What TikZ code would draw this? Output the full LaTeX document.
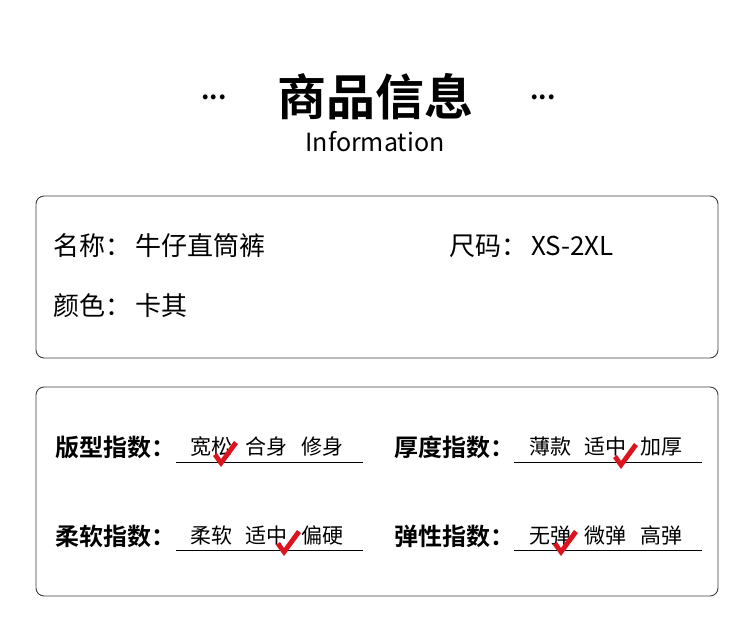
\documentclass[tikz,border=0pt]{standalone}
\usepackage{fontspec}
\setmainfont{Noto Sans CJK SC}
\newfontfamily\cjkbold{Noto Sans CJK SC Bold}
\usetikzlibrary{positioning}
\definecolor{tickRed}{RGB}{220,20,30}
\definecolor{lineGray}{RGB}{60,60,60}
\tikzset{
  panel/.style={draw=lineGray, line width=0.9pt, rounded corners=8pt},
  info/.style={anchor=west, inner sep=0pt, font=\fontsize{26}{26}\selectfont},
  key/.style={anchor=west, inner sep=0pt, font=\cjkbold\fontsize{24}{24}\selectfont},
  choice/.style={anchor=west, inner sep=0pt, font=\fontsize{21}{21}\selectfont},
  scale line/.style={draw=black, line width=0.9pt},
  tick/.style={fill=tickRed}
}
\newcommand*{\tickAt}[1]{%
  \fill[tick] ($(#1)+(-13,-1)$) -- ($(#1)+(-9,-4)$) -- ($(#1)+(-5,2)$) -- ($(#1)+(8,-16)$) -- ($(#1)+(12,-13)$) -- ($(#1)+(-5,10)$) -- cycle;}
\newcommand*{\gap}{\hspace{0.65em}}
\usetikzlibrary{calc}
\begin{document}
\begin{tikzpicture}[x=1pt,y=-1pt]
  \useasboundingbox[fill=white] (0,0) rectangle (750,619);

  % heading
  \node[font=\cjkbold\fontsize{49}{49}\selectfont] (title) at (375,97) {商品信息};
  \node[font=\cjkbold\fontsize{26}{26}\selectfont] (dotsL) at (214,97) {...};
  \node[font=\cjkbold\fontsize{26}{26}\selectfont] (dotsR) at (543,97) {...};
  \node[font=\fontsize{25}{25}\selectfont] (eng) at (375,142) {Information};

  % first panel
  \draw[panel] (36,196) rectangle (718,358);
  \node[info] (name) at (53,246) {名称：\hspace{0.15em}牛仔直筒裤};
  \node[info] (size) at (449,246) {尺码：\hspace{0.15em}XS-2XL};
  \node[info] (colour) at (53,306) {颜色：\hspace{0.15em}卡其};

  % second panel
  \draw[panel] (36,387) rectangle (718,596);

  \node[key] (fitKey) at (55,447) {版型指数：};
  \node[choice] (fitOpt) at (190,447) {宽松\gap 合身\gap 修身};
  \coordinate (fitA) at (176,462);
  \coordinate (fitB) at (363,462);
  \draw[scale line] (fitA) -- (fitB);

  \node[key] (thickKey) at (394,447) {厚度指数：};
  \node[choice] (thickOpt) at (529,447) {薄款\gap 适中\gap 加厚};
  \coordinate (thickA) at (514,462);
  \coordinate (thickB) at (702,462);
  \draw[scale line] (thickA) -- (thickB);

  \node[key] (softKey) at (55,536) {柔软指数：};
  \node[choice] (softOpt) at (190,536) {柔软\gap 适中\gap 偏硬};
  \coordinate (softA) at (176,550);
  \coordinate (softB) at (363,550);
  \draw[scale line] (softA) -- (softB);

  \node[key] (stretchKey) at (394,536) {弹性指数：};
  \node[choice] (stretchOpt) at (529,536) {无弹\gap 微弹\gap 高弹};
  \coordinate (stretchA) at (514,550);
  \coordinate (stretchB) at (702,550);
  \draw[scale line] (stretchA) -- (stretchB);

  % ticks
  \coordinate (t1) at (226,457);
  \coordinate (t2) at (626,459);
  \coordinate (t3) at (289,546);
  \coordinate (t4) at (566,546);
  \tickAt{t1}
  \tickAt{t2}
  \tickAt{t3}
  \tickAt{t4}
\end{tikzpicture}
\end{document}
